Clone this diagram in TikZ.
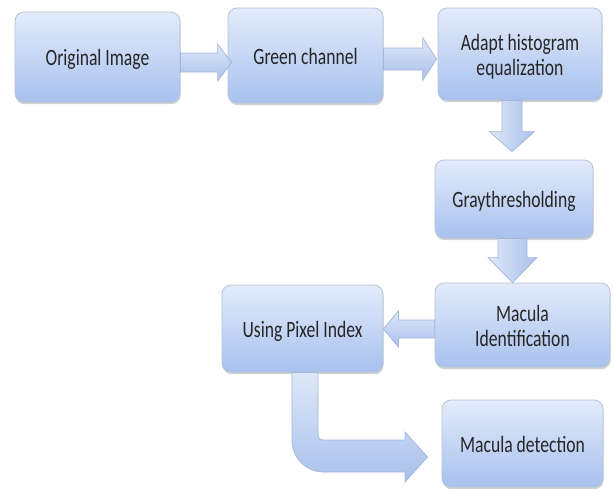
\documentclass[tikz,border=0pt]{standalone}
\usepackage{graphicx}
\usepackage{fontspec}
\setmainfont{Carlito}
\usetikzlibrary{calc,shadows}

\definecolor{boxtop}{HTML}{E3EBFA}
\definecolor{boxbot}{HTML}{A8C1EE}
\definecolor{boxline}{HTML}{B5C3D9}
\definecolor{arrtop}{HTML}{DDE7F8}
\definecolor{arrbot}{HTML}{AAC1EC}
\definecolor{arrline}{HTML}{A3B6D8}
\definecolor{txt}{HTML}{262626}

% tall, narrow lettering, set a little below the box centre
\newcommand\tallText[1]{\raisebox{-4pt}[\height][\depth]{\scalebox{1}[1.33]{\begin{tabular}{@{}c@{}}#1\end{tabular}}}}

\tikzset{
  stage/.style={draw=boxline, line width=0.8pt, rounded corners=9pt,
    top color=boxtop, bottom color=boxbot,
    drop shadow={shadow xshift=0.6pt, shadow yshift=-2.2pt, fill=black!40, opacity=0.45},
    align=center, text=txt, font=\fontsize{17.6}{18.4}\selectfont, inner sep=0pt},
  blockarrow/.style={draw=arrline, line width=0.7pt, top color=arrtop, bottom color=arrbot, line join=miter},
  blockarrowh/.style={draw=arrline, line width=0.7pt, left color=arrtop, right color=arrbot, line join=miter},
}

\begin{document}
\begin{tikzpicture}[x=1pt,y=-1pt]
\useasboundingbox (0,0) rectangle (614,488);

% process stages
\node[stage, minimum width=165pt, minimum height=90pt] (b1) at (97.5,57) {\tallText{Original Image}};
\node[stage, minimum width=155pt, minimum height=95pt] (b2) at (305.5,55.5) {\tallText{Green channel}};
\node[stage, minimum width=164pt, minimum height=92pt] (b3) at (520,54) {\tallText{Adapt histogram\\equalization}};
\node[stage, minimum width=158pt, minimum height=78pt] (b4) at (514,199) {\tallText{Graythresholding}};
\node[stage, minimum width=175pt, minimum height=84pt] (b5) at (522.5,325) {\tallText{Macula\\Identification}};
\node[stage, minimum width=161pt, minimum height=87pt] (b6) at (302.5,328.5) {\tallText{Using Pixel Index}};
\node[stage, minimum width=161pt, minimum height=87pt] (b7) at (522.5,443.5) {\tallText{Macula detection}};

% right-pointing block arrows
\path[blockarrow] let \p1=(b1.east |- 0,62.5), \p2=(b2.west |- 0,62.5) in
  (\x1,\y1+9.5pt) -- (\x2-10pt,\y1+9.5pt) -- (\x2-10pt,\y1+18.5pt) -- (\x2+4pt,\y1)
  -- (\x2-10pt,\y1-18.5pt) -- (\x2-10pt,\y1-9.5pt) -- (\x1,\y1-9.5pt) -- cycle;
\path[blockarrow] let \p1=(b2.east |- 0,59), \p2=(b3.west |- 0,59) in
  (\x1,\y1+11pt) -- (\x2-15pt,\y1+11pt) -- (\x2-15pt,\y1+21.5pt) -- (\x2-1pt,\y1)
  -- (\x2-15pt,\y1-21.5pt) -- (\x2-15pt,\y1-11pt) -- (\x1,\y1-11pt) -- cycle;

% downward block arrows
\path[blockarrowh] let \p1=(b3.south -| 512,0), \p2=(b4.north -| 512,0) in
  (\x1-10pt,\y1) -- (\x1-10pt,\y2+28pt) -- (\x1-22.5pt,\y2+28pt) -- (\x1,\y2+8pt)
  -- (\x1+22.5pt,\y2+28pt) -- (\x1+10pt,\y2+28pt) -- (\x1+10pt,\y1) -- cycle;
\path[blockarrowh] let \p1=(b4.south -| 512.5,0), \p2=(b5.north -| 512.5,0) in
  (\x1-14.5pt,\y1) -- (\x1-14.5pt,\y2+25pt) -- (\x1-24.5pt,\y2+25pt) -- (\x1,\y2)
  -- (\x1+24.5pt,\y2+25pt) -- (\x1+14.5pt,\y2+25pt) -- (\x1+14.5pt,\y1) -- cycle;

% left-pointing block arrow
\path[blockarrow] let \p1=(b5.west |- 0,329), \p2=(b6.east |- 0,329) in
  (\x1,\y1+9pt) -- (\x2+15pt,\y1+9pt) -- (\x2+15pt,\y1+18pt) -- (\x2,\y1)
  -- (\x2+15pt,\y1-18pt) -- (\x2+15pt,\y1-9pt) -- (\x1,\y1-9pt) -- cycle;

% bent block arrow
\path[blockarrow] (b6.south -| 292,0) -- (292,440)
  .. controls (292,458) and (306,472) .. (324,472) -- (405,472) -- (405,482)
  -- ($(b7.west)+(-14,13.5)$) -- (405,432) -- (405,440) -- (324,440)
  .. controls (320,440) and (318,438) .. (318,434) -- (b6.south -| 318,0) -- cycle;
\end{tikzpicture}
\end{document}
